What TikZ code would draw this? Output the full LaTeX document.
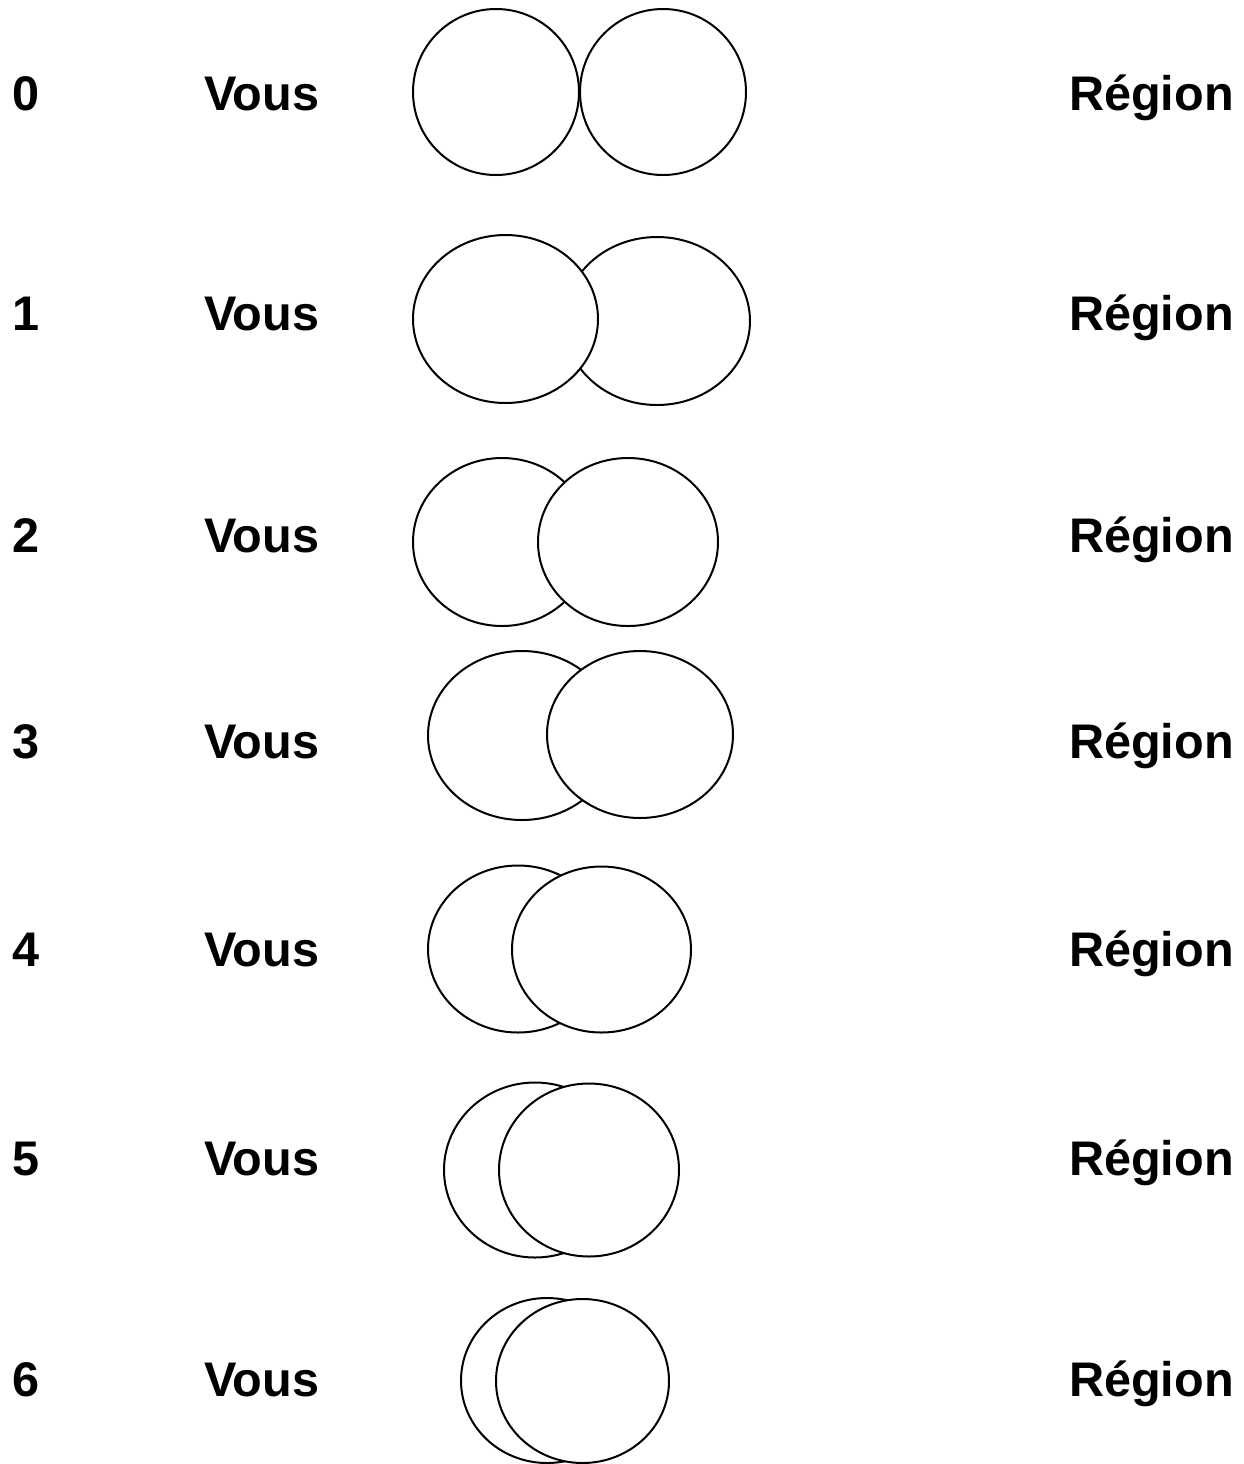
\documentclass[tikz,border=0pt]{standalone}
\usepackage{fontspec}
\setmainfont{Liberation Sans}
\usetikzlibrary{shapes.geometric}
\begin{document}
\begin{tikzpicture}[x=0.5pt, y=-0.5pt, line width=1pt,
    oval/.style = {draw, ellipse, fill=white, inner sep=0pt},
    lab/.style = {anchor=base west, inner sep=0pt, font=\bfseries\fontsize{24.3}{29}\selectfont}]
    \useasboundingbox (0,0) rectangle (1244,1464);
    % row 0
    \node[lab] (n0) at (11,110) {0};
    \node[lab] (v0) at (203,110) {Vous};
    \node[lab] (r0) at (1068,110) {Région};
    \node[oval, minimum width=83pt, minimum height=83pt] (b0) at (663,92) {};
    \node[oval, minimum width=83pt, minimum height=83pt] (a0) at (496,92) {};
    % row 1
    \node[lab] (n1) at (11,330) {1};
    \node[lab] (v1) at (203,330) {Vous};
    \node[lab] (r1) at (1068,330) {Région};
    \node[oval, minimum width=93pt, minimum height=84pt] (b1) at (657,321) {};
    \node[oval, minimum width=92.5pt, minimum height=84pt] (a1) at (505.5,319) {};
    % row 2
    \node[lab] (n2) at (11,552) {2};
    \node[lab] (v2) at (203,552) {Vous};
    \node[lab] (r2) at (1068,552) {Région};
    \node[oval, minimum width=89pt, minimum height=84pt] (a2) at (502,542) {};
    \node[oval, minimum width=90pt, minimum height=84pt] (b2) at (628,542) {};
    % row 3
    \node[lab] (n3) at (11,758) {3};
    \node[lab] (v3) at (203,758) {Vous};
    \node[lab] (r3) at (1068,758) {Région};
    \node[oval, minimum width=94pt, minimum height=84.5pt] (a3) at (522,735.5) {};
    \node[oval, minimum width=93pt, minimum height=83.5pt] (b3) at (640,734.5) {};
    % row 4
    \node[lab] (n4) at (11,966) {4};
    \node[lab] (v4) at (203,966) {Vous};
    \node[lab] (r4) at (1068,966) {Région};
    \node[oval, minimum width=90pt, minimum height=83.5pt] (a4) at (518,949) {};
    \node[oval, minimum width=89.5pt, minimum height=83pt] (b4) at (601.5,949.5) {};
    % row 5
    \node[lab] (n5) at (11,1175) {5};
    \node[lab] (v5) at (203,1175) {Vous};
    \node[lab] (r5) at (1068,1175) {Région};
    \node[oval, minimum width=91pt, minimum height=87.5pt] (a5) at (535,1170) {};
    \node[oval, minimum width=90pt, minimum height=86.5pt] (b5) at (589,1170) {};
    % row 6
    \node[lab] (n6) at (11,1396) {6};
    \node[lab] (v6) at (203,1396) {Vous};
    \node[lab] (r6) at (1068,1396) {Région};
    \node[oval, minimum width=86pt, minimum height=82.5pt] (a6) at (547,1380.5) {};
    \node[oval, minimum width=86.5pt, minimum height=82pt] (b6) at (582.5,1381) {};
\end{tikzpicture}
\end{document}
